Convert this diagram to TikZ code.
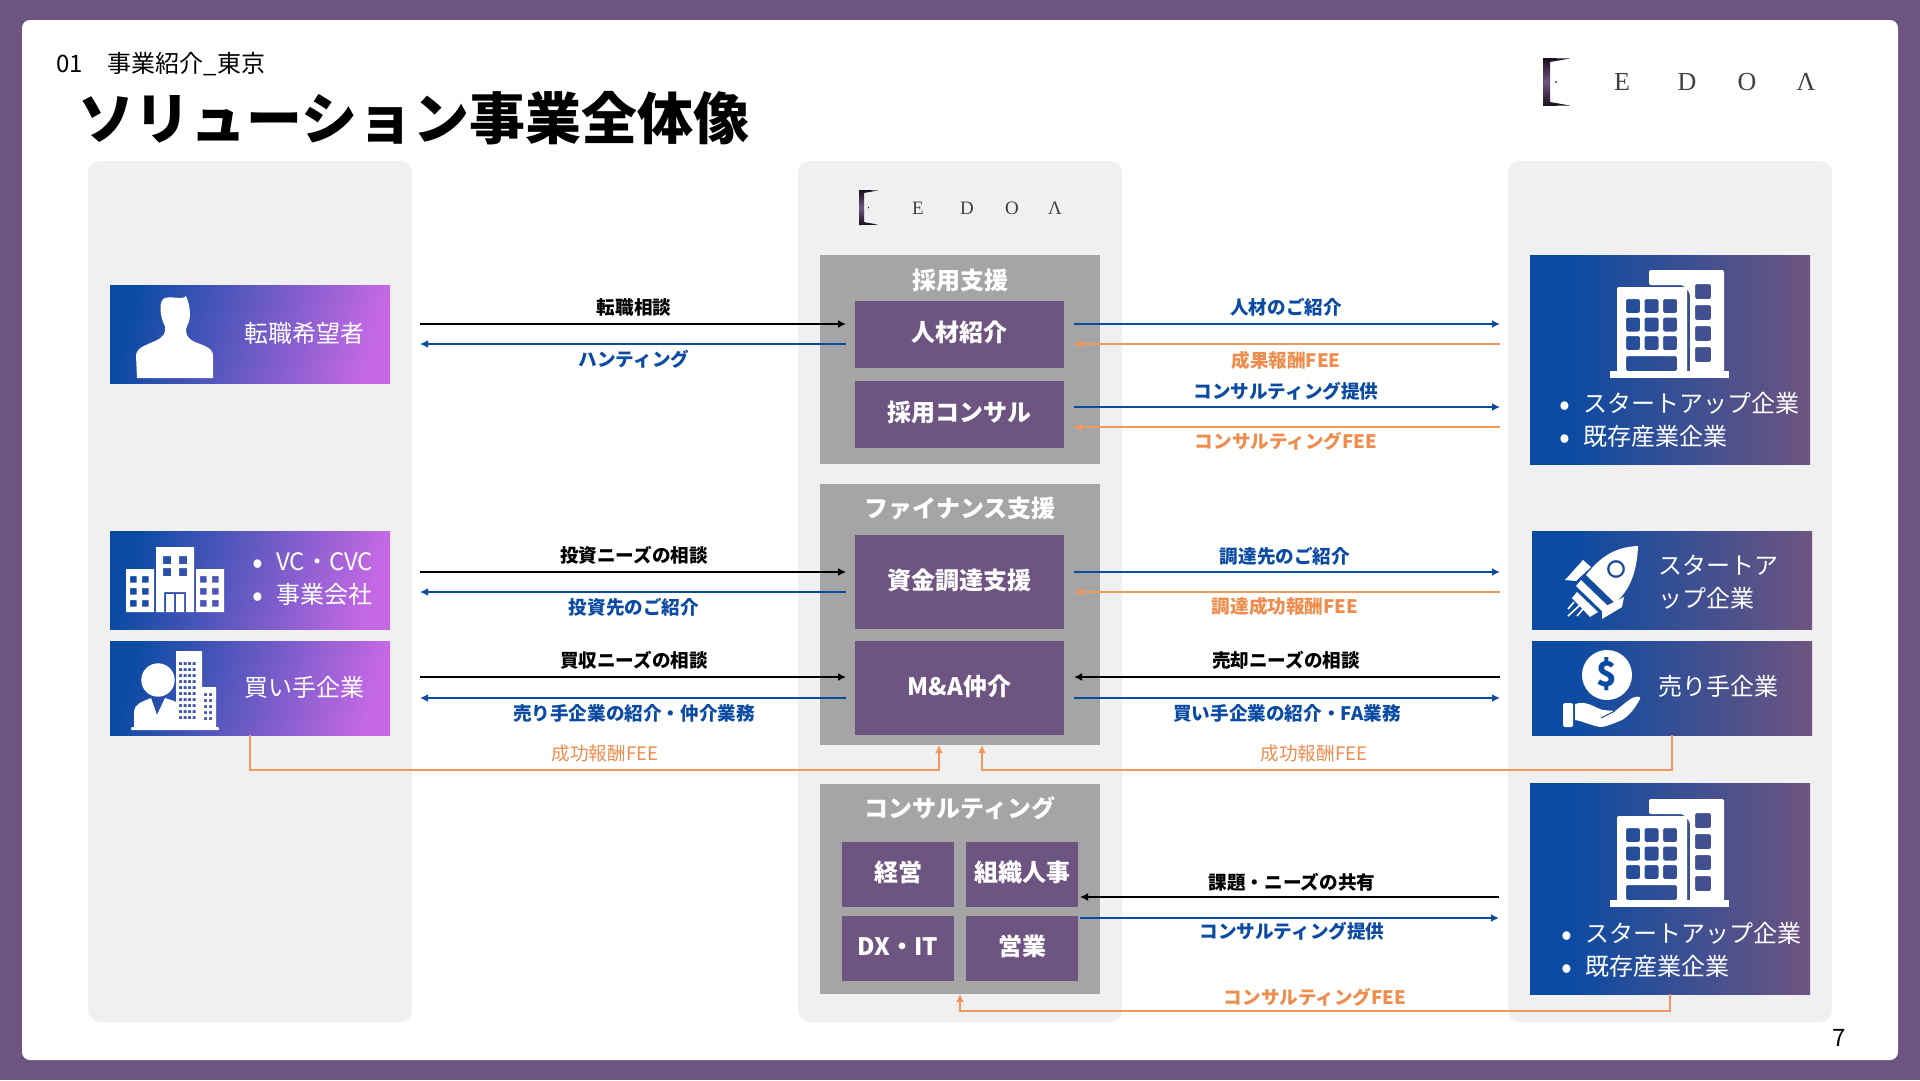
\documentclass[tikz,border=0pt]{standalone}
\usepackage{fontspec}
\setmainfont{Noto Sans CJK JP}
\newfontfamily\logofont{Liberation Serif}
\usetikzlibrary{arrows.meta}
\usetikzlibrary{shapes}

\definecolor{framepurple}{HTML}{6E5480}
\definecolor{panelgray}{HTML}{F0F0F0}
\definecolor{groupgray}{HTML}{A5A5A5}
\definecolor{linkblue}{HTML}{0B4BA3}
\definecolor{linkorange}{HTML}{F4975F}
\definecolor{feeorange}{HTML}{EE8D4E}
\definecolor{gradmagenta}{HTML}{C468E4}
\definecolor{logodark}{HTML}{1A1020}
\pgfdeclarehorizontalshading{partnerfade}{100bp}{color(0bp)=(linkblue); color(32bp)=(linkblue); color(75bp)=(framepurple); color(100bp)=(framepurple)}
\newcommand{\listdot}{\makebox[24pt][l]{\raisebox{-3pt}{\fontsize{32}{33}\selectfont •}}}

\tikzset{
	panelbox/.style={fill=panelgray, rounded corners=12pt, inner sep=0, outer sep=0},
	groupbox/.style={fill=groupgray, minimum width=280pt, inner sep=0, outer sep=0},
	innerbox/.style={fill=framepurple, text=white, font=\fontsize{24}{30}\selectfont\bfseries, text height=20pt, text depth=6pt, inner sep=0, outer sep=0},
	clientbox/.style={left color=linkblue, right color=gradmagenta, shading angle=75, minimum width=280pt, inner sep=0, outer sep=0},
	partnerbox/.style={shading=partnerfade, minimum width=280pt, inner sep=0, outer sep=0},
	boxtext/.style={text=white, font=\fontsize{24}{33}\selectfont, inner sep=0, align=left},
	grouptitle/.style={text=white, font=\fontsize{24}{30}\selectfont\bfseries, inner sep=0},
	blacktext/.style={font=\fontsize{18.6}{22}\selectfont\bfseries, inner sep=0},
	bluetext/.style={blacktext, text=linkblue},
	feetext/.style={blacktext, text=feeorange},
	lightfee/.style={font=\fontsize{18.6}{22}\selectfont, text=feeorange, inner sep=0},
	logoletter/.style={text=black!75, inner sep=0},
	gaps/.style 2 args={shorten <=#1, shorten >=#2},
	blackrow/.style={draw=black, line width=2.2pt},
	bluerow/.style={draw=linkblue, line width=2.2pt},
	orangerow/.style={draw=linkorange, line width=2.2pt},
	%% The Icons
	pics/bldgpair/.style={code={
		\fill[white, rounded corners=2pt, even odd rule]
			(39,15) -- (39,0) -- (114,0) -- (114,103) -- (80,103) -- (80,23) -- (73,15) -- cycle
			\foreach \y in {14,35,56,77} {(85,\y) rectangle ++(16,15)};
		\fill[white, rounded corners=2pt, even odd rule]
			(7,103) -- (7,17) -- (77,17) -- (77,103) -- cycle
			\foreach \x in {16,34.5,53} {\foreach \y in {29,47.5,66} {(\x,\y) rectangle ++(14,14)}}
			(16,86) rectangle (67,101);
		\fill[white] (0,101) rectangle (119,108);
	}},
	pics/logomark/.style={code={
		\shade[top color=logodark, bottom color=logodark, middle color=framepurple]
			(0,0) -- (27,0.5) -- (7,4) -- (7,44) -- (27,47.5) -- (0,48) -- cycle;
		\fill[logodark] (13,24) circle (1pt);
	}},
}

\begin{document}
\begin{tikzpicture}[x=1pt, y=-1pt, >={Latex[length=8pt,width=8pt]}]
	\useasboundingbox (0,0) rectangle (1920,1080);
	\fill[framepurple] (0,0) rectangle (1920,1080);
	\fill[white, rounded corners=8pt] (22,20) rectangle (1898,1060);

	%% The Header
	\node[anchor=west, inner sep=0, font=\fontsize{24}{28}\selectfont] (section) at (56,64) {01\hspace{25pt}事業紹介\_東京};
	\node[anchor=west, inner sep=0, font=\fontsize{56}{60}\selectfont\bfseries] (title) at (78,118) {ソリューション事業全体像};
	\node[inner sep=0, font=\fontsize{24}{28}\selectfont] (pageno) at (1839,1038) {7};
	\pic (logotop) at (1543,58) {logomark};
	\node[logoletter, font=\logofont\fontsize{26}{28}\selectfont] (etop) at (1622,82) {E};
	\node[logoletter, font=\logofont\fontsize{26}{28}\selectfont] (dtop) at (1687,82) {D};
	\node[logoletter, font=\logofont\fontsize{26}{28}\selectfont] (otop) at (1747,82) {O};
	\node[logoletter, font=\logofont\fontsize{26}{28}\selectfont] (atop) at (1806,82) {Λ};

	%% The Panels
	\node[panelbox, minimum width=324pt, minimum height=861pt] (leftpanel) at (250,591.5) {};
	\node[panelbox, minimum width=324pt, minimum height=861pt] (midpanel) at (960,591.5) {};
	\node[panelbox, minimum width=324pt, minimum height=861pt] (rightpanel) at (1670,591.5) {};

	\pic[scale=0.73] (logomid) at (859,190) {logomark};
	\node[logoletter, font=\logofont\fontsize{19}{22}\selectfont] (emid) at (918,208) {E};
	\node[logoletter, font=\logofont\fontsize{19}{22}\selectfont] (dmid) at (967,208) {D};
	\node[logoletter, font=\logofont\fontsize{19}{22}\selectfont] (omid) at (1012,208) {O};
	\node[logoletter, font=\logofont\fontsize{19}{22}\selectfont] (amid) at (1055,208) {Λ};

	%% The Left Boxes
	\node[clientbox, minimum height=98pt] (job) at (250,334) {};
	\node[clientbox, minimum height=98pt] (vc) at (250,580) {};
	\node[clientbox, minimum height=94pt] (buyer) at (250,688) {};
	\node[boxtext] (jobtext) at (304,333) {転職希望者};
	\node[boxtext, anchor=west] (vctext) at (252,580) {\listdot VC・CVC\\\listdot 事業会社};
	\node[boxtext] (buyertext) at (304,687) {買い手企業};

	% person
	\fill[white] (137,378) -- (136,355) .. controls (137,347) and (147,345) .. (155,341)
		.. controls (164,337) and (166,333) .. (165,326) .. controls (160,318) and (158,300) .. (165,298)
		.. controls (172,296) and (183,300) .. (186,296) .. controls (190,305) and (192,318) .. (187,326)
		.. controls (184,334) and (188,339) .. (195,342) .. controls (205,346) and (213,348) .. (213,356)
		-- (213,378) -- cycle;
	% offices
	\fill[white, even odd rule] (126,569) rectangle (154,612)
		\foreach \x in {130,142} {\foreach \y in {576,588,600} {(\x,\y) rectangle ++(6.5,6.5)}}
		(196,569) rectangle (224,612)
		\foreach \x in {200,212} {\foreach \y in {576,588,600} {(\x,\y) rectangle ++(6.5,6.5)}}
		(156,547) rectangle (194,612)
		\foreach \x in {163,179} {\foreach \y in {556,568} {(\x,\y) rectangle ++(8,8)}}
		(164,592) rectangle (186,612) (166,594) rectangle (174,612) (176,594) rectangle (184,612);
	% buyer
	\fill[white] (158,680) circle (16.7pt);
	\fill[white] (134,727) -- (134,712) .. controls (135,703) and (142,702) .. (151,698) -- (157,715) -- (165,698)
		.. controls (170,700) and (174,700) .. (177,703) -- (177,727) -- cycle;
	\fill[white, even odd rule] (176,651) rectangle (202,727)
		\foreach \x in {179,183.5,188,192.5} {\foreach \y in {662,668,674,680,686,692,698,704,710,716} {(\x,\y) rectangle ++(3,3)}}
		(202,687) rectangle (216,727)
		\foreach \x in {204,209} {\foreach \y in {693,699,705,711,717} {(\x,\y) rectangle ++(3,3)}};
	\fill[white, rounded corners=1pt] (131,727) rectangle (219,730);

	%% The Middle Boxes
	\node[groupbox, minimum height=209pt] (hire) at (960,359.5) {};
	\node[groupbox, minimum height=261pt] (finance) at (960,614.5) {};
	\node[groupbox, minimum height=210pt] (consult) at (960,889) {};
	\node[grouptitle] (hiretitle) at (960,280) {採用支援};
	\node[grouptitle] (financetitle) at (960,509) {ファイナンス支援};
	\node[grouptitle] (consulttitle) at (960,808) {コンサルティング};
	\node[innerbox, minimum width=209pt, minimum height=67pt] (talent) at (959.5,334.5) {人材紹介};
	\node[innerbox, minimum width=209pt, minimum height=67pt] (hireconsult) at (959.5,414.5) {採用コンサル};
	\node[innerbox, minimum width=209pt, minimum height=94pt] (funding) at (959.5,582) {資金調達支援};
	\node[innerbox, minimum width=209pt, minimum height=94pt] (manda) at (959.5,688) {M\&A仲介};
	\node[innerbox, minimum width=112pt, minimum height=65pt] (mgmt) at (898,874.5) {経営};
	\node[innerbox, minimum width=112pt, minimum height=65pt] (org) at (1022,874.5) {組織人事};
	\node[innerbox, minimum width=112pt, minimum height=65pt] (dxit) at (898,948.5) {DX・IT};
	\node[innerbox, minimum width=112pt, minimum height=65pt] (sales) at (1022,948.5) {営業};

	%% The Right Boxes
	\node[partnerbox, minimum height=209pt] (firms) at (1670,359.5) {};
	\node[partnerbox, minimum height=98pt] (startup) at (1672,580) {};
	\node[partnerbox, minimum height=94pt] (seller) at (1672,688) {};
	\node[partnerbox, minimum height=211pt] (firmsb) at (1670,888.5) {};
	\pic (pairtop) at (1610,270) {bldgpair};
	\pic (pairbot) at (1610,799) {bldgpair};
	\node[boxtext, anchor=west] (firmstext) at (1559,420.5) {\listdot スタートアップ企業\\\listdot 既存産業企業};
	\node[boxtext, anchor=west] (firmsbtext) at (1561,950) {\listdot スタートアップ企業\\\listdot 既存産業企業};
	\node[boxtext, anchor=west] (startuptext) at (1658,582.5) {スタートア\\ップ企業};
	\node[boxtext, anchor=west] (sellertext) at (1658,686) {売り手企業};

	% rocket
	\fill[white, even odd rule] (1638,546) .. controls (1612,547) and (1598,560) .. (1586,575)
		-- (1615,603) .. controls (1630,590) and (1637,572) .. (1638,546)
		(1616,569) circle (9pt) (1616,569) circle (6.5pt);
	\fill[white] (1581,580) -- (1610,608) -- (1604,613) -- (1576,586) -- cycle;
	\fill[white] (1577,592) -- (1598,612) -- (1590,617) -- (1572,598) -- cycle;
	\fill[white] (1583,560) -- (1565,580) -- (1576,581) -- (1591,567) -- cycle;
	\fill[white] (1624,597) -- (1622,607) -- (1602,619) -- (1602,608) -- cycle;
	\draw[white, line width=1.6pt] (1568,609) -- (1574,602) (1568,616) -- (1580,605) (1577,616) -- (1583,609);
	% hand and coin
	\fill[white] (1607,675) circle (25pt);
	\node[inner sep=0, text=linkblue, font=\fontsize{34}{36}\selectfont\bfseries] (dollar) at (1607,674) {\$};
	\fill[white, rounded corners=1.5pt] (1563,703) rectangle (1573,727);
	\fill[white] (1575,704) .. controls (1587,700) and (1595,708) .. (1603,710) -- (1615,711)
		.. controls (1622,706) and (1630,698) .. (1635,697) .. controls (1638,696) and (1641,697) .. (1640,699)
		.. controls (1635,708) and (1630,715) .. (1622,720) .. controls (1610,725) and (1605,727) .. (1600,727)
		.. controls (1590,725) and (1582,721) .. (1575,720) -- cycle;
	\draw[linkblue, line width=1pt] (1601,718) -- (1615,711);

	%% The Rows
	\coordinate (rowa) at (0,324);
	\coordinate (rowb) at (0,344);
	\coordinate (rowc) at (0,407);
	\coordinate (rowd) at (0,427);
	\coordinate (rowe) at (0,572);
	\coordinate (rowf) at (0,592);
	\coordinate (rowg) at (0,677);
	\coordinate (rowh) at (0,698);
	\coordinate (rowi) at (0,897);
	\coordinate (rowj) at (0,918);

	\draw[->, blackrow, gaps={30pt}{9pt}] (job.east |- rowa) -- (talent.west |- rowa);
	\draw[<-, bluerow, gaps={30pt}{9pt}] (job.east |- rowb) -- (talent.west |- rowb);
	\draw[->, blackrow, gaps={30pt}{9pt}] (vc.east |- rowe) -- (funding.west |- rowe);
	\draw[<-, bluerow, gaps={30pt}{9pt}] (vc.east |- rowf) -- (funding.west |- rowf);
	\draw[->, blackrow, gaps={30pt}{9pt}] (buyer.east |- rowg) -- (manda.west |- rowg);
	\draw[<-, bluerow, gaps={30pt}{9pt}] (buyer.east |- rowh) -- (manda.west |- rowh);

	\draw[->, bluerow, gaps={10pt}{30pt}] (talent.east |- rowa) -- (firms.west |- rowa);
	\draw[<-, orangerow, gaps={10pt}{30pt}] (talent.east |- rowb) -- (firms.west |- rowb);
	\draw[->, bluerow, gaps={10pt}{30pt}] (hireconsult.east |- rowc) -- (firms.west |- rowc);
	\draw[<-, orangerow, gaps={10pt}{30pt}] (hireconsult.east |- rowd) -- (firms.west |- rowd);
	\draw[->, bluerow, gaps={10pt}{32pt}] (funding.east |- rowe) -- (startup.west |- rowe);
	\draw[<-, orangerow, gaps={10pt}{32pt}] (funding.east |- rowf) -- (startup.west |- rowf);
	\draw[<-, blackrow, gaps={10pt}{32pt}] (manda.east |- rowg) -- (seller.west |- rowg);
	\draw[->, bluerow, gaps={10pt}{32pt}] (manda.east |- rowh) -- (seller.west |- rowh);
	\draw[<-, blackrow, gaps={2pt}{31pt}] (org.east |- rowi) -- (firmsb.west |- rowi);
	\draw[->, bluerow, gaps={2pt}{31pt}] (org.east |- rowj) -- (firmsb.west |- rowj);

	%% The Fees
	\draw[->, orangerow] (buyer.south) -- ++(0,35) -| ([xshift=-21pt]finance.south);
	\draw[->, orangerow] (seller.south) -- ++(0,35) -| ([xshift=22pt]finance.south);
	\draw[->, orangerow] (firmsb.south) -- ++(0,17) -| (consult.south);

	%% The Labels
	\node[blacktext] (lbjob) at (634,307) {転職相談};
	\node[bluetext] (lbhunt) at (634,359) {ハンティング};
	\node[blacktext] (lbinvest) at (634,555) {投資ニーズの相談};
	\node[bluetext] (lbintro) at (634,607) {投資先のご紹介};
	\node[blacktext] (lbbuy) at (634,660) {買収ニーズの相談};
	\node[bluetext] (lbsell) at (634,713) {売り手企業の紹介・仲介業務};
	\node[lightfee] (lbfeel) at (605,753) {成功報酬FEE};

	\node[bluetext] (lbtalent) at (1286,307) {人材のご紹介};
	\node[feetext] (lbresult) at (1286,360) {成果報酬FEE};
	\node[bluetext] (lbcons) at (1286,391) {コンサルティング提供};
	\node[feetext] (lbconsfee) at (1286,441) {コンサルティングFEE};
	\node[bluetext] (lbfund) at (1285,556) {調達先のご紹介};
	\node[feetext] (lbfundfee) at (1285,606) {調達成功報酬FEE};
	\node[blacktext] (lbexit) at (1286,660) {売却ニーズの相談};
	\node[bluetext] (lbfa) at (1287,713) {買い手企業の紹介・FA業務};
	\node[lightfee] (lbfeer) at (1314,753) {成功報酬FEE};
	\node[blacktext] (lbissue) at (1292,882) {課題・ニーズの共有};
	\node[bluetext] (lbconsb) at (1292,931) {コンサルティング提供};
	\node[feetext] (lbconsfeeb) at (1315,997) {コンサルティングFEE};
\end{tikzpicture}
\end{document}
